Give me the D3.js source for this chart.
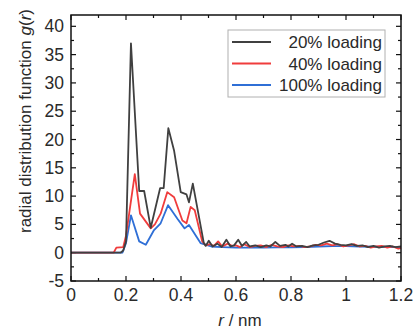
<!DOCTYPE html>
<html>
<head>
<meta charset="utf-8">
<script src="https://cdn.jsdelivr.net/npm/d3@7"></script>
<style>
  body { margin: 0; background: #fff; }
  svg text { font-family: "Liberation Sans", Arial, sans-serif; fill: #2a2a2a; }
</style>
</head>
<body>
<figure id="rdf" style="margin:0"></figure>
<script>
// series: r (nm) and g(r) values
const seriesNames = ["20% loading", "40% loading", "100% loading"];
const seriesColors = ["#404040", "#f03c3c", "#2f6fd6"];

const r20 = [0, 0.18, 0.19, 0.2, 0.218, 0.248, 0.266, 0.29, 0.324, 0.337, 0.354, 0.375, 0.399, 0.42, 0.429, 0.443, 0.483,
  0.49, 0.501, 0.515, 0.532, 0.548, 0.565, 0.58, 0.593, 0.608, 0.622, 0.637, 0.65, 0.67, 0.69, 0.71, 0.725, 0.743, 0.76,
  0.78, 0.79, 0.804, 0.82, 0.84, 0.86, 0.88, 0.9, 0.92, 0.94, 0.96, 0.98, 1.0, 1.02, 1.04, 1.06, 1.08, 1.1, 1.12, 1.14,
  1.16, 1.18, 1.2];
const g20 = [0, 0, 0.4, 2, 37, 10.9, 10.9, 4.4, 11.4, 11.4, 22, 18, 10.7, 10.3, 8.9, 12.2, 1.7,
  1.2, 2.1, 1.1, 1.6, 1.0, 2.3, 1.1, 1.3, 2.3, 1.2, 1.9, 1.1, 1.3, 1.0, 1.3, 1.1, 1.9, 1.2,
  1.4, 1.1, 1.6, 1.1, 1.2, 1.0, 1.3, 1.4, 1.8, 2.1, 1.6, 1.4, 1.3, 1.5, 1.2, 1.3, 1.0, 1.2, 0.9, 1.1,
  1.2, 1.0, 1.1];

const r40 = [0, 0.155, 0.165, 0.19, 0.2, 0.232, 0.251, 0.29, 0.305, 0.326, 0.35, 0.375, 0.405, 0.42, 0.435, 0.45, 0.477,
  0.49, 0.505, 0.52, 0.535, 0.55, 0.57, 0.585, 0.6, 0.615, 0.63, 0.65, 0.67, 0.69, 0.71, 0.73, 0.75, 0.77, 0.79, 0.81,
  0.83, 0.85, 0.87, 0.89, 0.91, 0.93, 0.95, 0.97, 0.99, 1.01, 1.03, 1.05, 1.07, 1.09, 1.11, 1.13, 1.15, 1.17, 1.19, 1.2];
const g40 = [0, 0, 0.9, 1.0, 3, 13.9, 6.9, 4.3, 5.0, 6.9, 10.7, 9.8, 5.7, 5.2, 8.1, 7.5, 2.0,
  1.3, 1.5, 1.2, 2.0, 1.1, 1.6, 1.2, 1.3, 1.0, 1.5, 1.0, 1.2, 1.3, 1.0, 1.4, 1.1, 1.0, 1.3, 1.1,
  1.2, 1.0, 1.1, 1.4, 1.3, 1.6, 1.3, 1.5, 1.1, 1.3, 1.5, 1.1, 1.2, 0.9, 1.1, 1.2, 0.9, 1.1, 0.7, 0.8];

const r100 = [0, 0.187, 0.2, 0.218, 0.248, 0.272, 0.302, 0.326, 0.353, 0.387, 0.413, 0.429, 0.471, 0.51, 0.55, 0.6,
  0.65, 0.7, 0.75, 0.8, 0.85, 0.9, 0.95, 1.0, 1.05, 1.1, 1.15, 1.2];
const g100 = [0, 0, 1.7, 6.6, 2.0, 1.4, 4.0, 5.2, 8.4, 6.0, 4.3, 4.9, 1.7, 1.1, 1.0, 0.9,
  0.9, 0.9, 0.95, 0.95, 1.0, 1.1, 1.15, 1.15, 1.1, 1.05, 1.0, 1.0];

const xTicks = [0, 0.2, 0.4, 0.6, 0.8, 1, 1.2];
const yTicks = [-5, 0, 5, 10, 15, 20, 25, 30, 35, 40];

const W = 416, H = 331;
const box = { left: 71, right: 401, top: 15, bottom: 281 };

const svg = d3.select("figure#rdf")
  .append("svg")
  .attr("width", W)
  .attr("height", H);

const x = d3.scaleLinear().domain([0, 1.2]).range([box.left, box.right]);
const y = d3.scaleLinear().domain([-5, 42]).range([box.bottom, box.top]);

// minor ticks every 0.1 / 2.5, all pointing inward
const xMinor = d3.range(0, 1.2001, 0.1).filter(v => !xTicks.some(t => Math.abs(t - v) < 1e-6));
const yMinor = d3.range(-2.5, 42, 5);

function tickLines(g, vals, len, orient) {
  const horiz = orient === "b" || orient === "t";
  g.append("g").selectAll("line")
    .data(vals)
    .enter()
    .append("line")
    .attr("stroke", "#111")
    .attr("stroke-width", 1.2)
    .attr("x1", d => horiz ? x(d) : (orient === "l" ? box.left : box.right))
    .attr("x2", d => horiz ? x(d) : (orient === "l" ? box.left + len : box.right - len))
    .attr("y1", d => !horiz ? y(d) : (orient === "b" ? box.bottom : box.top))
    .attr("y2", d => !horiz ? y(d) : (orient === "b" ? box.bottom - len : box.top + len));
}

const ticks = svg.append("g");
tickLines(ticks, xTicks, 5, "b");
tickLines(ticks, xMinor, 3, "b");
tickLines(ticks, xTicks, 5, "t");
tickLines(ticks, xMinor, 3, "t");
tickLines(ticks, yTicks, 5, "l");
tickLines(ticks, yMinor, 3, "l");
tickLines(ticks, yTicks, 5, "r");
tickLines(ticks, yMinor, 3, "r");

// tick labels
svg.append("g").selectAll("text")
  .data(xTicks)
  .enter()
  .append("text")
  .attr("x", d => x(d))
  .attr("y", 300.5)
  .attr("text-anchor", "middle")
  .style("font-size", "17.5px")
  .text(d => d3.format("~g")(d));

svg.append("g").selectAll("text")
  .data(yTicks)
  .enter()
  .append("text")
  .attr("x", 64)
  .attr("y", d => y(d) + 6)
  .attr("text-anchor", "end")
  .style("font-size", "17.5px")
  .text(d => d);

// lines
const line = d3.line().x(d => x(d[0])).y(d => y(d[1]));
const series = [d3.zip(r20, g20), d3.zip(r40, g40), d3.zip(r100, g100)];

const plot = svg.append("g");
[2, 1, 0].forEach(i => {
  plot.append("path")
    .datum(series[i])
    .attr("fill", "none")
    .attr("stroke", seriesColors[i])
    .attr("stroke-width", 1.8)
    .attr("stroke-linejoin", "round")
    .attr("d", line);
});

// frame
svg.append("rect")
  .attr("x", box.left).attr("y", box.top)
  .attr("width", box.right - box.left).attr("height", box.bottom - box.top)
  .attr("fill", "none")
  .attr("stroke", "#111")
  .attr("stroke-width", 1.5);

// legend
const legend = svg.append("g");
legend.append("rect")
  .attr("x", 228).attr("y", 30)
  .attr("width", 157).attr("height", 67)
  .attr("fill", "#fff")
  .attr("stroke", "#b0b0b0")
  .attr("stroke-width", 1);
seriesNames.forEach((name, i) => {
  const ly = 42 + i * 21.5;
  legend.append("line")
    .attr("x1", 232).attr("x2", 271)
    .attr("y1", ly).attr("y2", ly)
    .attr("stroke", seriesColors[i])
    .attr("stroke-width", 1.8);
  legend.append("text")
    .attr("x", 382).attr("y", ly + 6)
    .attr("text-anchor", "end")
    .style("font-size", "17px")
    .text(name);
});

// axis titles
svg.append("text")
  .attr("transform", "translate(31,121) rotate(-90)")
  .attr("text-anchor", "middle")
  .style("font-size", "17px")
  .html('radial distribution function <tspan font-style="italic">g</tspan>(<tspan font-style="italic">r</tspan>)');

svg.append("text")
  .attr("x", 240).attr("y", 326)
  .attr("text-anchor", "middle")
  .style("font-size", "17px")
  .html('<tspan font-style="italic">r</tspan> / nm');
</script>
</body>
</html>
